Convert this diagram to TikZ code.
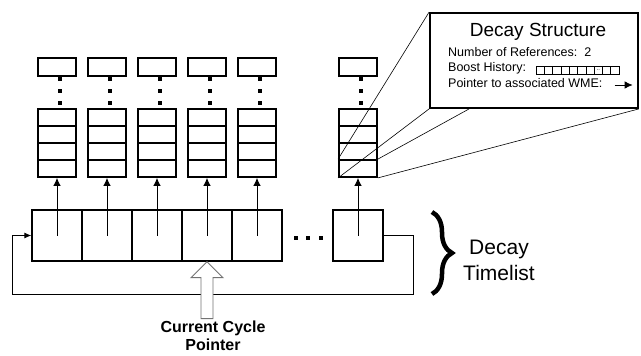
\documentclass[tikz,border=0pt]{standalone}
\usepackage{fontspec}
\setmainfont{Liberation Sans}
\usetikzlibrary{arrows.meta,positioning,decorations.pathreplacing}

\begin{document}
\begin{tikzpicture}[
    x=1pt, y=-1pt,
    font=\fontsize{12.5}{15}\selectfont,
    cell/.style={draw, line width=1.3pt, minimum width=50pt, minimum height=51pt, inner sep=0pt},
    slot/.style={draw, line width=1.8pt, minimum width=38pt, minimum height=17pt, inner sep=0pt},
    headbox/.style={draw, line width=1.8pt, minimum width=38pt, minimum height=18pt, inner sep=0pt},
    hist/.style={draw, line width=0.6pt, minimum width=8.3pt, minimum height=8pt, inner sep=0pt},
    arr/.style={-{Latex[length=8pt,width=7.5pt]}, line width=0.9pt},
    fan/.style={line width=0.6pt},
    hollow/.style={draw=black!55, fill=white, line width=0.9pt},
    txt/.style={anchor=west, inner sep=0pt}
  ]
  \useasboundingbox (0,0) rectangle (641,356);
  \foreach \i/\x in {1/57,2/107,3/157,4/207,5/257,6/358} {
    \node[cell] (c\i) at (\x,235.5) {};
    \foreach \j in {1,...,4}
      \node[slot] (s\i-\j) at (\x,{100.5+17*\j}) {};
    \node[headbox] (t\i) at (\x,67) {};
    \foreach \d in {79,91,103}
      \fill ({\x+1},{\d-2}) rectangle ++(4,4);
    \draw[arr] (c\i.center) -- (s\i-4.south);
  }
  \foreach \x in {296,308,321}
    \fill ({\x-2},236) rectangle ++(4,4);

  \coordinate (loopr) at (413,294);
  \coordinate (loopl) at (12,294);
  \draw[-{Latex[length=7pt,width=6pt]}, line width=0.9pt]
    (c6.east) -| (loopr) -- (loopl) |- (c1.west);

  \draw[hollow] (c4.south) -- ++(16,16) -- ++(-10,0) -- ++(0,41) -- ++(-12,0)
    -- ++(0,-41) -- ++(-10,0) -- cycle;
  \node[font=\bfseries\fontsize{16}{18.5}\selectfont, align=center, inner sep=0pt] (ccp)
    at (213,336) {Current Cycle\\Pointer};

  \draw[decorate, decoration={brace, amplitude=20pt}, line width=4.5pt]
    (432,212) -- (432,294);
  \node[font=\fontsize{21}{26}\selectfont, align=center] (tlist) at (499,260)
    {Decay\\Timelist};

  \node[draw, line width=1.8pt, fill=white, minimum width=208pt, minimum height=95pt,
        inner sep=0pt] (decay) at (534,60.5) {};
  \draw[fan] (s6-4.north west) -- (decay.north west);
  \draw[fan] (s6-4.south west) -- (decay.south west);
  \draw[fan] (s6-4.north east) -- ([xshift=40pt]decay.south west);
  \draw[fan] (s6-4.south east) -- (decay.south east);

  \node[font=\fontsize{19}{22}\selectfont] (title) at (538,32) {Decay Structure};
  \node[txt] (nref) at (448,52) {Number of References:\ \ 2};
  \node[txt] (boost) at (448,68) {Boost History:};
  \node[txt] (wme) at (448,83) {Pointer to associated WME:};
  \foreach \k in {1,...,10}
    \node[hist] (b\k) at ({531.85+8.3*\k},70) {};
  \node[font=\fontsize{6}{6}\selectfont, inner sep=0pt] at (b8) {..};
  \draw[arr, line width=0.8pt] ([xshift=12pt,yshift=-2pt]wme.east) -- ++(18,0);
\end{tikzpicture}
\end{document}
